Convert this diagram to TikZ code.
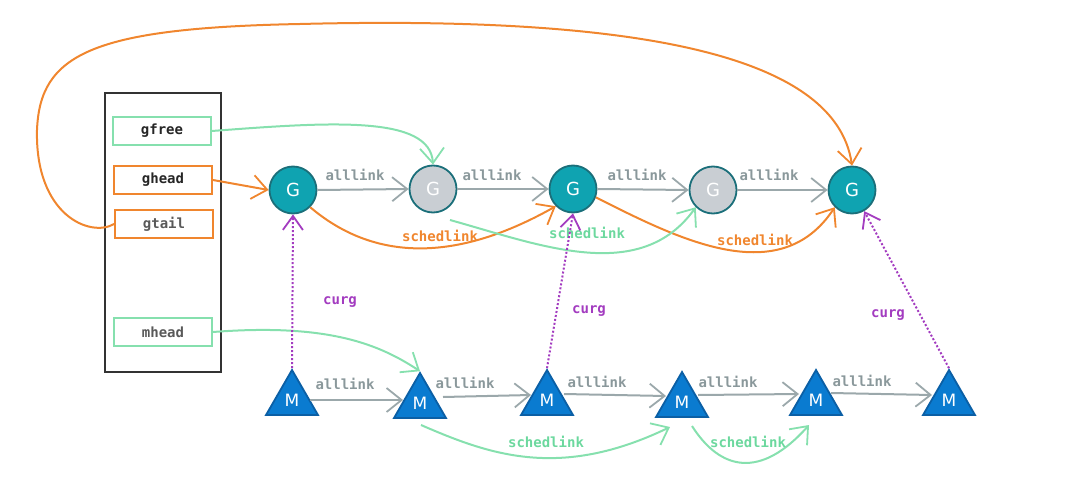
\documentclass[tikz,border=0pt]{standalone}
\usepackage{fontspec}
\setmainfont{DejaVu Sans}
\newfontfamily\monof{DejaVu Sans Mono}
\usetikzlibrary{arrows.meta,shapes.geometric}
\definecolor{tealG}{HTML}{0FA3B1}
\definecolor{tealB}{HTML}{1B6F7A}
\definecolor{greyG}{HTML}{C9CED3}
\definecolor{blueM}{HTML}{0A7BD0}
\definecolor{blueB}{HTML}{0B5FA5}
\definecolor{allc}{HTML}{9BA8AB}
\definecolor{allt}{HTML}{8A989B}
\definecolor{orng}{HTML}{F0862E}
\definecolor{grn}{HTML}{86E0AE}
\definecolor{grnt}{HTML}{6CD89E}
\definecolor{purp}{HTML}{A33CC0}
\tikzset{
  barb/.tip={Straight Barb[length=15pt,width=24pt,line width=1.8pt]},
  gnode/.style={circle,draw=tealB,line width=1.8pt,fill=tealG,minimum size=47pt,inner sep=0pt,text=white,font=\fontsize{18}{18}\selectfont},
  gfade/.style={gnode,fill=greyG},
  mnode/.style={regular polygon,regular polygon sides=3,draw=blueB,line width=1.8pt,fill=blueM,minimum size=60pt,inner sep=0pt,text=white,font=\fontsize{17}{17}\selectfont},
  fbox/.style={draw,line width=1.8pt,minimum width=98pt,minimum height=28pt,inner sep=0pt,font=\monof\bfseries\fontsize{14}{14}\selectfont},
  lbl/.style={font=\monof\bfseries\fontsize{14}{14}\selectfont,inner sep=1pt},
  alllk/.style={draw=allc,line width=2pt,-barb},
  olk/.style={draw=orng,line width=2pt,-barb},
  glk/.style={draw=grn,line width=2pt,-barb},
  curg/.style={draw=purp,line width=2pt,dotted,-{Straight Barb[length=14pt,width=20pt,line width=1.8pt]}},
}
\begin{document}
\begin{tikzpicture}[x=1pt,y=-1pt]
\useasboundingbox (0,0) rectangle (1067,487);
% left struct
\node[draw=black!80,line width=1.8pt,minimum width=116pt,minimum height=279pt,inner sep=0pt] (sched) at (163,232.5) {};
\node[fbox,draw=grn,text=black!85] (gfree) at (162,131) {gfree};
\node[fbox,draw=orng,text=black!85] (ghead) at (163,180) {ghead};
\node[fbox,draw=orng,text=black!65] (gtail) at (164,224) {gtail};
\node[fbox,draw=grn,text=black!65] (mhead) at (163,332) {mhead};
% G nodes
\node[gnode] (G1) at (293,190) {G};
\node[gfade] (G2) at (433,189) {G};
\node[gnode] (G3) at (573,189) {G};
\node[gfade] (G4) at (713,190) {G};
\node[gnode] (G5) at (852,190) {G};
% M nodes
\node[mnode] (M1) at (292,400) {M};
\node[mnode] (M2) at (420,403) {M};
\node[mnode] (M3) at (547,400) {M};
\node[mnode] (M4) at (682,402) {M};
\node[mnode] (M5) at (816,400) {M};
\node[mnode] (M6) at (949,400) {M};
% alllink G
\draw[alllk] (G1.east) -- (G2.west);
\draw[alllk] (G2.east) -- (G3.west);
\draw[alllk] (G3.east) -- (G4.west);
\draw[alllk] (G4.east) -- (G5.west);
\node[lbl,text=allt] (la1) at (355,175) {alllink};
\node[lbl,text=allt] (la2) at (492,175) {alllink};
\node[lbl,text=allt] (la3) at (637,175) {alllink};
\node[lbl,text=allt] (la4) at (769,175) {alllink};
% alllink M
\coordinate (m1r) at (310,400); \coordinate (m2l) at (403,400);
\coordinate (m2r) at (443,397); \coordinate (m3l) at (531,395);
\coordinate (m3r) at (564,394); \coordinate (m4l) at (666,396);
\coordinate (m4r) at (698,395); \coordinate (m5l) at (799,394);
\coordinate (m5r) at (831,393); \coordinate (m6l) at (932,395);
\draw[alllk] (m1r) -- (m2l);
\draw[alllk] (m2r) -- (m3l);
\draw[alllk] (m3r) -- (m4l);
\draw[alllk] (m4r) -- (m5l);
\draw[alllk] (m5r) -- (m6l);
\node[lbl,text=allt] (lm1) at (345,384) {alllink};
\node[lbl,text=allt] (lm2) at (465,383) {alllink};
\node[lbl,text=allt] (lm3) at (597,382) {alllink};
\node[lbl,text=allt] (lm4) at (728,382) {alllink};
\node[lbl,text=allt] (lm5) at (862,381) {alllink};
% orange
\draw[olk] (ghead.east) -- (G1.west);
\draw[olk] (gtail.west) .. controls (90,238) and (35,215) .. (37,130)
  .. controls (40,55) and (90,28) .. (300,24)
  .. controls (620,16) and (835,50) .. (G5.north);
\draw[olk] (G1.south east) .. controls (370,258) and (450,266) .. (G3.south west);
\draw[olk] (G3.-20) .. controls (680,240) and (780,290) .. (G5.south west);
\node[lbl,text=orng] (ls1) at (440,236) {schedlink};
\node[lbl,text=orng] (ls2) at (755,240) {schedlink};
% green
\draw[glk] (gfree.east) .. controls (330,122) and (430,115) .. (G2.north);
\draw[glk] (450,220) .. controls (540,245) and (640,285) .. (G4.south west);
\draw[glk] (mhead.east) .. controls (330,323) and (380,345) .. (M2.corner 1);
\draw[glk] (421,425) .. controls (490,455) and (560,480) .. (670,427);
\draw[glk] (692,426) .. controls (720,470) and (760,480) .. (809,425);
\node[lbl,text=grnt] (ls3) at (587,233) {schedlink};
\node[lbl,text=grnt] (ls4) at (546,442) {schedlink};
\node[lbl,text=grnt] (ls5) at (748,442) {schedlink};
% curg
\draw[curg] (M1.corner 1) -- (G1.south);
\draw[curg] (M3.corner 1) -- (G3.south);
\draw[curg] (M6.corner 1) -- (G5.-60);
\node[lbl,text=purp] (lc1) at (340,302) {curg};
\node[lbl,text=purp] (lc2) at (589,311) {curg};
\node[lbl,text=purp] (lc3) at (888,315) {curg};
\end{tikzpicture}
\end{document}
